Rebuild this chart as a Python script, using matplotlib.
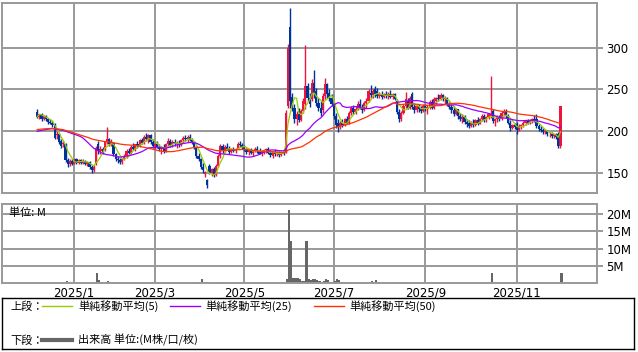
import matplotlib
matplotlib.use("Agg")
import matplotlib.pyplot as plt
import numpy as np
import pandas as pd

# ---- data ----
# closes before the first shown day, only used to warm up the moving averages
hist_close = [206, 204, 203, 207, 205, 202, 204, 206, 203, 201,
              204, 205, 207, 203, 202, 204, 206, 205, 203, 202,
              204, 205, 203, 202, 204,
              203, 201, 204, 202, 200, 203, 201, 202, 203, 201,
              195, 192, 189, 186, 185, 187, 184, 186, 189, 190,
              205, 218, 224, 222]

open_px = [223, 217, 220, 214, 218, 215, 211, 210, 208, 195,
           196, 188, 184, 184, 165, 160, 164, 161, 166, 162,
           165, 162, 164, 161, 163, 157, 153, 160, 184, 176,
           179, 177, 187, 190, 184, 186, 172, 167, 165, 163,
           166, 170, 176, 174, 181, 179, 184, 182, 189, 186,
           193, 190, 195, 187, 182, 184, 181, 178, 180, 176,
           185, 188, 183, 187, 184, 186, 183, 189, 192, 190,
           193, 189, 187, 180, 170, 166, 157, 149, 141, 158,
           150, 154, 147, 158, 170, 182, 177, 181, 179, 175,
           178, 176, 179, 185, 183, 181, 178, 175, 177, 174,
           176, 179, 176, 173, 175, 177, 178, 174, 170, 175,
           172, 174, 171, 175, 175, 230, 325, 241, 228, 214,
           220, 213, 224, 232, 254, 240, 238, 258, 248, 234,
           228, 225, 242, 256, 246, 240, 233, 218, 210, 205,
           210, 207, 214, 210, 222, 228, 223, 227, 232, 228,
           225, 234, 236, 246, 243, 250, 248, 242, 245, 241,
           244, 242, 245, 241, 244, 236, 223, 214, 222, 230,
           236, 228, 244, 229, 225, 230, 226, 224, 230, 226,
           229, 235, 228, 236, 240, 238, 243, 238, 240, 232,
           229, 225, 221, 226, 218, 215, 217, 211, 210, 206,
           210, 207, 213, 209, 214, 218, 213, 217, 218, 224,
           212, 214, 217, 214, 222, 224, 218, 210, 204, 207,
           209, 201, 206, 207, 210, 212, 210, 213, 214, 214,
           206, 203, 201, 199, 200, 196, 197, 194, 196, 196,
           182]

high_px = [226, 221, 222, 219, 219, 216, 214, 212, 210, 200,
           198, 190, 188, 186, 168, 166, 166, 167, 168, 167,
           166, 166, 165, 164, 164, 159, 159, 182, 188, 182,
           181, 188, 205, 192, 190, 187, 174, 170, 168, 167,
           172, 178, 180, 183, 186, 185, 188, 190, 192, 195,
           198, 196, 197, 190, 186, 188, 185, 182, 184, 186,
           192, 190, 189, 190, 188, 189, 190, 194, 195, 195,
           196, 192, 188, 182, 174, 168, 162, 152, 143, 160,
           156, 157, 160, 172, 185, 184, 183, 186, 182, 180,
           181, 180, 187, 188, 186, 183, 180, 178, 180, 177,
           181, 182, 180, 177, 179, 180, 181, 177, 176, 178,
           176, 176, 176, 177, 225, 304, 348, 246, 232, 224,
           228, 226, 240, 303, 258, 246, 262, 273, 252, 240,
           236, 246, 264, 258, 250, 244, 235, 222, 214, 212,
           214, 216, 218, 224, 230, 231, 230, 236, 238, 233,
           236, 240, 250, 255, 250, 254, 252, 247, 248, 246,
           248, 247, 249, 246, 246, 238, 226, 224, 233, 247,
           240, 242, 247, 234, 232, 233, 230, 232, 232, 231,
           237, 238, 241, 241, 244, 246, 245, 242, 241, 235,
           232, 230, 228, 227, 222, 220, 219, 214, 213, 212,
           214, 215, 217, 216, 220, 220, 218, 222, 266, 226,
           216, 219, 219, 224, 226, 226, 221, 213, 209, 210,
           211, 208, 209, 212, 213, 215, 215, 216, 219, 221,
           209, 206, 204, 202, 201, 199, 199, 197, 198, 199,
           230]

low_px = [216, 214, 212, 213, 212, 209, 208, 205, 190, 190,
          185, 180, 181, 163, 157, 158, 159, 160, 161, 160,
          160, 160, 159, 158, 155, 150, 151, 159, 173, 172,
          173, 176, 184, 182, 182, 170, 164, 162, 160, 161,
          165, 168, 172, 173, 177, 176, 180, 181, 184, 185,
          188, 186, 185, 180, 178, 180, 176, 172, 174, 175,
          182, 181, 181, 182, 180, 181, 182, 186, 188, 187,
          188, 185, 178, 168, 164, 155, 150, 145, 132, 148,
          146, 145, 146, 157, 168, 174, 175, 178, 173, 174,
          175, 174, 178, 181, 179, 176, 173, 171, 172, 170,
          175, 174, 172, 170, 173, 174, 172, 169, 168, 170,
          170, 169, 170, 171, 174, 228, 228, 224, 210, 207,
          211, 212, 222, 226, 236, 229, 236, 240, 230, 224,
          218, 222, 238, 240, 236, 230, 215, 204, 199, 203,
          205, 206, 208, 209, 219, 221, 220, 225, 226, 222,
          224, 228, 235, 240, 240, 241, 240, 240, 239, 240,
          240, 239, 240, 238, 237, 220, 211, 212, 220, 228,
          226, 226, 226, 222, 223, 223, 222, 223, 224, 221,
          227, 226, 227, 232, 236, 237, 236, 232, 230, 226,
          222, 218, 219, 215, 212, 210, 208, 205, 204, 205,
          205, 206, 207, 208, 212, 211, 211, 214, 216, 210,
          206, 211, 212, 213, 218, 216, 208, 200, 202, 203,
          197, 200, 203, 205, 207, 208, 209, 210, 211, 204,
          200, 199, 197, 196, 194, 193, 192, 192, 191, 180,
          180]

close_px = [217, 220, 214, 218, 215, 211, 210, 207, 192, 196,
            187, 182, 186, 165, 160, 164, 161, 166, 162, 165,
            162, 164, 161, 163, 157, 153, 157, 180, 176, 179,
            175, 187, 190, 184, 188, 172, 167, 165, 163, 166,
            170, 176, 174, 181, 179, 184, 182, 189, 186, 193,
            191, 195, 187, 182, 184, 181, 178, 180, 176, 185,
            188, 183, 187, 184, 186, 183, 189, 192, 190, 193,
            189, 187, 180, 170, 166, 157, 153, 151, 135, 150,
            154, 147, 158, 170, 182, 177, 181, 179, 175, 178,
            176, 179, 185, 183, 181, 178, 175, 177, 174, 176,
            179, 176, 173, 175, 177, 178, 174, 171, 175, 172,
            174, 171, 175, 173, 222, 300, 236, 227, 214, 220,
            213, 224, 236, 254, 240, 233, 258, 244, 234, 228,
            222, 242, 256, 244, 240, 233, 218, 207, 205, 210,
            207, 214, 210, 222, 228, 223, 227, 232, 228, 225,
            234, 236, 248, 243, 248, 244, 242, 245, 241, 244,
            242, 245, 241, 244, 239, 223, 214, 222, 230, 238,
            228, 240, 229, 225, 230, 226, 224, 230, 226, 229,
            235, 228, 239, 240, 238, 243, 238, 240, 232, 229,
            225, 221, 226, 218, 215, 217, 211, 208, 206, 210,
            207, 213, 209, 214, 218, 213, 217, 220, 221, 212,
            214, 217, 214, 222, 224, 218, 210, 204, 207, 205,
            201, 206, 207, 210, 212, 210, 213, 214, 212, 206,
            203, 201, 199, 200, 196, 197, 194, 196, 193, 182,
            230]

# volume in millions of shares
volume_m = [0.2, 0.15, 0.15, 0.1, 0.1, 0.15, 0.1, 0.1, 0.3, 0.15,
            0.2, 0.2, 0.1, 0.7, 0.5, 0.2, 0.15, 0.1, 0.1, 0.1,
            0.1, 0.1, 0.1, 0.1, 0.2, 0.3, 0.2, 3.1, 1.0, 0.3,
            0.2, 0.3, 0.7, 0.3, 0.2, 0.3, 0.4, 0.2, 0.1, 0.1,
            0.2, 0.2, 0.1, 0.15, 0.1, 0.1, 0.1, 0.15, 0.1, 0.15,
            0.1, 0.1, 0.1, 0.1, 0.1, 0.1, 0.1, 0.1, 0.1, 0.1,
            0.1, 0.1, 0.1, 0.1, 0.1, 0.1, 0.1, 0.1, 0.1, 0.1,
            0.1, 0.1, 0.2, 0.3, 0.4, 1.25, 0.4, 0.3, 0.4, 0.2,
            0.2, 0.15, 0.2, 0.3, 0.3, 0.2, 0.1, 0.1, 0.1, 0.1,
            0.1, 0.1, 0.15, 0.1, 0.1, 0.1, 0.1, 0.1, 0.1, 0.1,
            0.1, 0.1, 0.1, 0.1, 0.1, 0.1, 0.1, 0.1, 0.1, 0.1,
            0.1, 0.1, 0.1, 0.1, 1.3, 21.2, 12.2, 1.6, 1.5, 1.4,
            1.2, 0.8, 0.8, 12.2, 1.2, 1.0, 1.3, 1.2, 1.0, 0.6,
            0.5, 0.6, 1.2, 1.0, 0.5, 0.4, 0.6, 1.2, 1.0, 0.4,
            0.3, 0.3, 0.2, 0.3, 0.2, 0.2, 0.2, 0.2, 0.2, 0.2,
            0.4, 0.4, 0.4, 0.7, 0.3, 1.0, 0.3, 0.2, 0.2, 0.2,
            0.2, 0.2, 0.2, 0.2, 0.2, 0.3, 0.3, 0.4, 0.2, 0.3,
            0.2, 0.2, 0.4, 0.2, 0.2, 0.2, 0.2, 0.2, 0.2, 0.2,
            0.2, 0.2, 0.2, 0.2, 0.2, 0.2, 0.2, 0.2, 0.4, 0.2,
            0.2, 0.2, 0.2, 0.2, 0.2, 0.2, 0.2, 0.2, 0.2, 0.2,
            0.2, 0.2, 0.2, 0.2, 0.2, 0.2, 0.2, 0.2, 3.1, 0.4,
            0.2, 0.2, 0.2, 0.2, 0.2, 0.2, 0.2, 0.2, 0.2, 0.2,
            0.2, 0.2, 0.2, 0.2, 0.2, 0.2, 0.2, 0.2, 0.2, 0.4,
            0.2, 0.2, 0.2, 0.2, 0.2, 0.2, 0.2, 0.2, 0.2, 0.3,
            3.1]

# TSE holidays in the period
holidays = ["2024-12-31", "2025-01-01", "2025-01-02", "2025-01-03", "2025-01-13",
            "2025-02-11", "2025-02-24", "2025-03-20", "2025-04-29", "2025-05-05",
            "2025-05-06", "2025-07-21", "2025-08-11", "2025-09-15", "2025-09-23",
            "2025-10-13", "2025-11-03", "2025-11-24"]
tick_months = [1, 3, 5, 7, 9, 11]
price_ticks = [150, 200, 250, 300]
vol_ticks = [5, 10, 15, 20]
ma_periods = [5, 25, 50]

# ---- styles ----
RED = "#F0143C"
BLUE = "#003399"
MA_COLORS = ["#99CC00", "#9900FF", "#FF3300"]
GRID = "#999999"
JP = ["Noto Sans CJK JP", "DejaVu Sans"]
plt.rcParams["font.family"] = ["DejaVu Sans"]
plt.rcParams["font.size"] = 8

o = np.array(open_px, float)
h = np.array(high_px, float)
l = np.array(low_px, float)
c = np.array(close_px, float)
v = np.array(volume_m, float)
n = len(c)
idx = np.arange(n)

dates = pd.bdate_range("2024-12-06", "2025-12-03", freq="C", holidays=holidays)
if len(dates) != n:
    dates = pd.bdate_range("2024-12-06", periods=n, freq="C", holidays=holidays)
tick_pos = [int(np.argmax((dates.year == 2025) & (dates.month == m))) for m in tick_months]
tick_lab = ["2025/%d" % m for m in tick_months]

full = pd.Series(hist_close + close_px, dtype=float)
mas = [full.rolling(p).mean().to_numpy()[-n:] for p in ma_periods]

W, H = 638, 352
fig = plt.figure(figsize=(W / 100, H / 100), dpi=100)


def box(x0, y0, x1, y1):
    return [x0 / W, 1 - y1 / H, (x1 - x0) / W, (y1 - y0) / H]


XL = (-16.0, 256.9)

# ---- price panel ----
ax = fig.add_axes(box(2.3, 3.3, 597.3, 193))
ax.set_xlim(*XL)
ax.set_ylim(125.6, 353.3)
for s in ax.spines.values():
    s.set_color(GRID)
    s.set_linewidth(1.4)
ax.set_yticks(price_ticks)
ax.yaxis.tick_right()
ax.tick_params(axis="y", length=4.5, width=1.4, color=GRID, pad=2, labelsize=8.5)
ax.set_xticks(tick_pos)
ax.tick_params(axis="x", length=0, labelbottom=False)
ax.grid(True, color=GRID, linewidth=1.4)
ax.set_axisbelow(True)

up = c >= o
body_lo = np.minimum(o, c)
body_h = np.maximum(np.abs(c - o), 0.8)
for mask, col in [(up, RED), (~up, BLUE)]:
    ax.vlines(idx[mask], l[mask], h[mask], color=col, linewidth=1.0, zorder=2)
    ax.bar(idx[mask], body_h[mask], bottom=body_lo[mask], width=1.0,
           color=col, linewidth=0, zorder=2)
for ma, col in zip(mas, MA_COLORS):
    ax.plot(idx, ma, color=col, linewidth=0.9, zorder=3)

# ---- volume panel ----
axv = fig.add_axes(box(2.3, 204.3, 597.3, 283.3))
axv.set_xlim(*XL)
axv.set_ylim(0, 22.8)
for s in axv.spines.values():
    s.set_color(GRID)
    s.set_linewidth(1.4)
axv.bar(idx, v, width=1.0, align="edge", color="#666666", linewidth=0, zorder=2)
axv.set_yticks(vol_ticks)
axv.set_yticklabels(["%dM" % t for t in vol_ticks])
axv.yaxis.tick_right()
axv.tick_params(axis="y", length=4.5, width=1.4, color=GRID, pad=2, labelsize=8.5)
axv.set_xticks(tick_pos)
axv.set_xticklabels(tick_lab)
axv.tick_params(axis="x", length=0, pad=2, labelsize=8.5)
axv.grid(True, color=GRID, linewidth=1.4)
axv.set_axisbelow(True)
axv.text(0.011, 0.89, "単位: M", transform=axv.transAxes, family=JP,
         fontsize=8, va="center", ha="left")

# ---- legend box ----
axl = fig.add_axes(box(2, 298.3, 634, 349))
axl.set_xlim(0, 632)
axl.set_ylim(50.7, 0)
axl.set_xticks([])
axl.set_yticks([])
for s in axl.spines.values():
    s.set_color("black")
    s.set_linewidth(1.0)
r1, r2 = 8.0, 42.0
axl.text(8, r1, "上段：", family=JP, fontsize=8, va="center")
for (x0, tx), col, p in zip([(40, 76), (168, 203), (312, 347)], MA_COLORS, ma_periods):
    axl.plot([x0, x0 + 30], [r1, r1], color=col, linewidth=1.0)
    axl.text(tx, r1, "単純移動平均(%d)" % p, family=JP, fontsize=8, va="center")
axl.text(8, r2, "下段：", family=JP, fontsize=8, va="center")
axl.plot([40, 70], [r2, r2], color="#666666", linewidth=3.0)
axl.text(76, r2, "出来高 単位:(M株/口/枚)", family=JP, fontsize=8, va="center")

fig.savefig("out.png", dpi=100)
